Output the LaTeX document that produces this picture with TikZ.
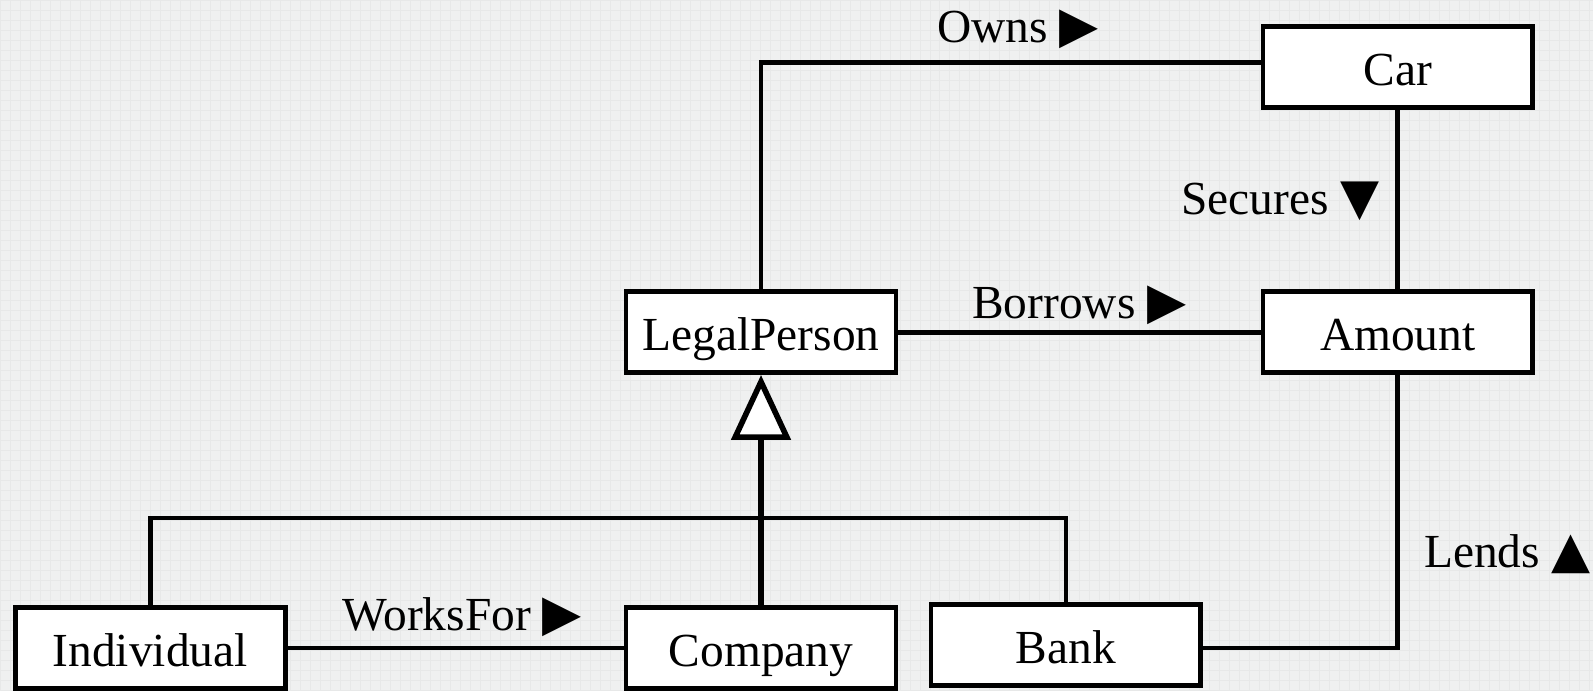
\documentclass[tikz,border=0pt]{standalone}
\usepackage{fontspec}
\setmainfont{Liberation Serif}
\newfontfamily\symfont[Scale=1.07]{DejaVu Sans}
\usetikzlibrary{arrows.meta,positioning,calc}
\definecolor{paper}{HTML}{EFF0F0}
\definecolor{gridline}{HTML}{E7E8E8}
\newcommand{\rtri}{{\symfont ▶}}
\newcommand{\dtri}{{\symfont ▼}}
\newcommand{\utri}{{\symfont ▲}}

\begin{document}
\begin{tikzpicture}[x=0.02cm,y=-0.02cm,line width=2.7pt,
	cls/.style={draw,fill=white,minimum width=5.4cm,minimum height=1.62cm,inner sep=0pt,
		text height=22pt,text depth=1.5pt,font=\fontsize{27}{32}\selectfont},
	lbl/.style={inner sep=0pt,font=\fontsize{27}{32}\selectfont},
	gen/.style={-{Triangle[fill=white,width=1.18cm,length=1.3cm]}}]
	% paper
	\fill[paper] (0,0) rectangle (1593,691);
	\draw[gridline,line width=0.3pt,step=0.2cm] (0,0) grid (1593,691);
	% classes
	\node[cls] (car) at (1398,67) {Car};
	\node[cls] (amount) at (1398,332) {Amount};
	\node[cls] (legal) at (761,332) {LegalPerson};
	\node[cls] (individual) at (150,648) {Individual};
	\node[cls] (company) at (761,648) {Company};
	\node[cls] (bank) at (1066,645) {Bank};
	% associations
	\draw (legal.north) |- ([yshift=0.09cm]car.west);
	\draw (car.south) -- (amount.north);
	\draw (legal.east) -- (amount.west);
	\draw (amount.south) |- ([yshift=-0.06cm]bank.east);
	\draw (individual.east) -- (company.west);
	% generalization
	\coordinate (bar) at (761,518);
	\draw[gen,line width=3.2pt] (company.north) -- (legal.south);
	\draw (individual.north) |- (bar) -| (bank.north);
	% labels
	\node[lbl,anchor=west] (owns) at (935,29) {Owns \rtri};
	\node[lbl,anchor=east] (secures) at (1382,201) {Secures \dtri};
	\node[lbl,anchor=west] (borrows) at (970,305) {Borrows \rtri};
	\node[lbl,anchor=west] (lends) at (1422,554) {Lends \utri};
	\node[lbl,anchor=west] (worksfor) at (340,617) {WorksFor \rtri};
\end{tikzpicture}
\end{document}
